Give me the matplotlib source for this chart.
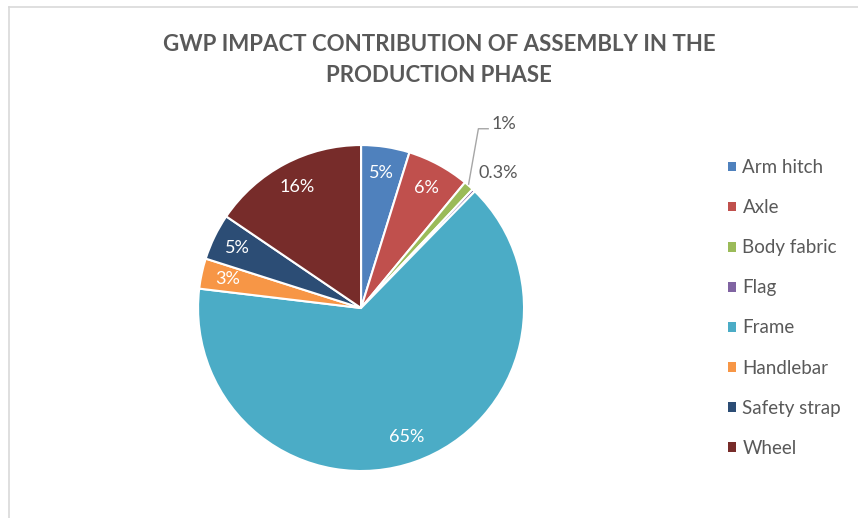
import matplotlib.pyplot as plt
from matplotlib.lines import Line2D

parts = ['Arm hitch', 'Axle', 'Body fabric', 'Flag', 'Frame', 'Handlebar', 'Safety strap', 'Wheel']
shares = [4.8, 6.2, 1.0, 0.3, 64.6, 3.0, 4.6, 15.5]
pct_labels = ['5%', '6%', '1%', '0.3%', '65%', '3%', '5%', '16%']
colors = ['#4F81BD', '#C0504D', '#9BBB59', '#8064A2', '#4BACC6', '#F79646', '#2C4D75', '#772C2A']

plt.rcParams['font.family'] = ['Lato', 'DejaVu Sans']
grey = '#595959'

fig = plt.figure(figsize=(8.58, 5.18), dpi=100)
ax = fig.add_axes([0.2308, 0.0907, 0.38, 0.6293])

wedges, texts = ax.pie(shares, colors=colors, startangle=90, counterclock=False,
                       labels=pct_labels, labeldistance=0.84,
                       wedgeprops=dict(edgecolor='white', linewidth=1.5),
                       textprops=dict(color='white', fontsize=13, ha='center', va='center'))
ax.set_xlim(-1, 1)
ax.set_ylim(-1, 1)
ax.set_aspect('equal')

# small slices: labels outside
texts[2].set_position((0.80, 1.13))
texts[2].set_color(grey)
texts[2].set_ha('left')
texts[3].set_position((0.72, 0.83))
texts[3].set_color(grey)
texts[3].set_ha('left')
ax.plot([0.66, 0.72, 0.78], [0.76, 1.10, 1.10], color='#A6A6A6', lw=1, clip_on=False)

fig.text(0.512, 0.884, 'GWP IMPACT CONTRIBUTION OF ASSEMBLY IN THE\nPRODUCTION PHASE',
         ha='center', va='center', fontsize=16, fontweight='bold', color=grey,
         linespacing=1.55)

leg = ax.legend(wedges, parts, loc='center left', bbox_to_anchor=(0.8485, 0.4055),
                bbox_transform=fig.transFigure, frameon=False, fontsize=13.5,
                borderpad=0, borderaxespad=0,
                handlelength=0.42, handleheight=0.42, handletextpad=0.35,
                labelspacing=1.23, labelcolor=grey)
for h in leg.legend_handles:
    h.set_edgecolor('none')

# light chart-area border
fig.add_artist(Line2D([0.011, 1.0], [0.986, 0.986], color='#D9D9D9', lw=1.2))
fig.add_artist(Line2D([0.011, 0.011], [0.0, 0.986], color='#D9D9D9', lw=1.2))

fig.savefig('out.png', dpi=100)
